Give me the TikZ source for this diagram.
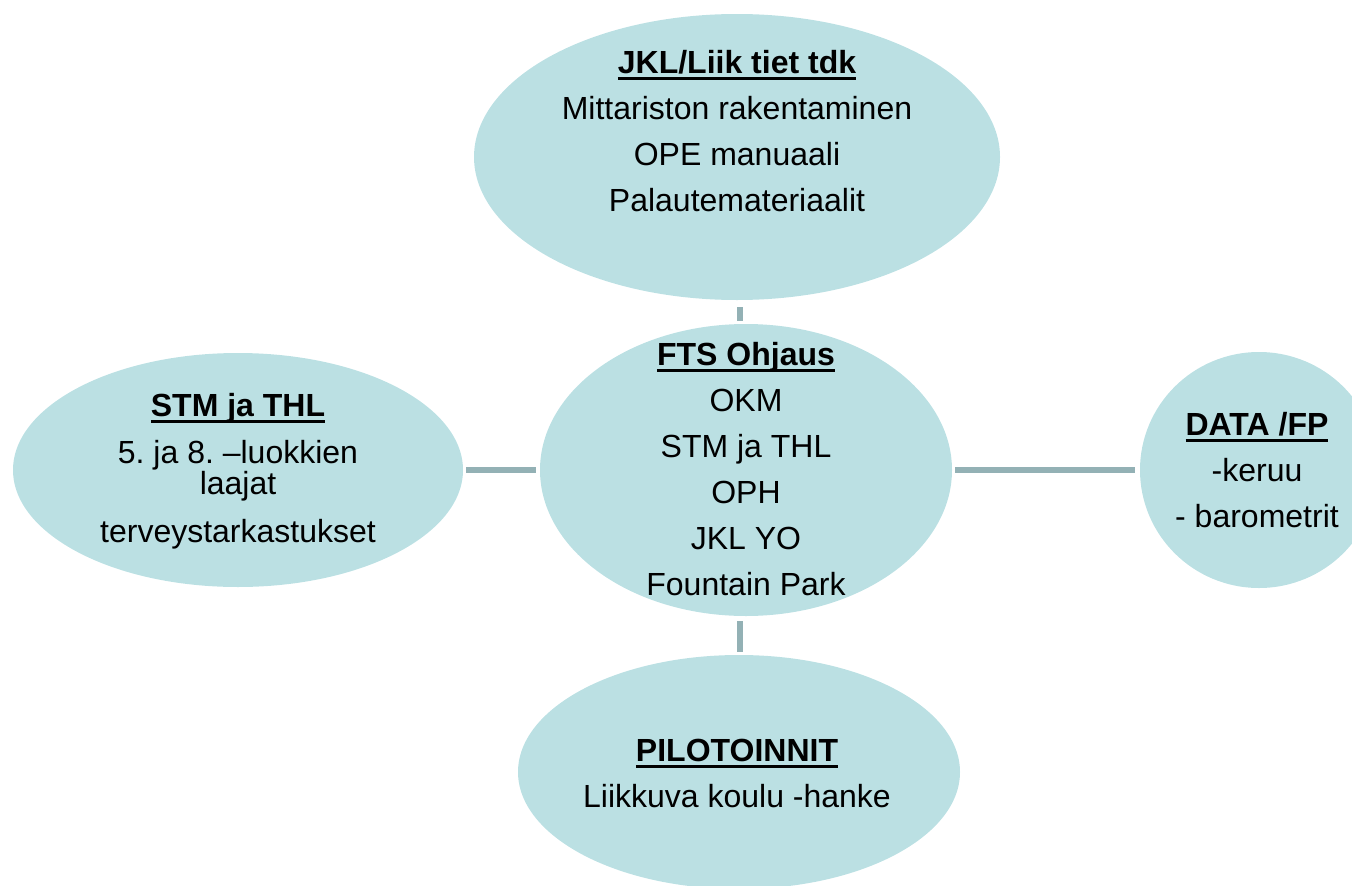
\documentclass[tikz,border=0pt]{standalone}
\usepackage{fontspec}
\setmainfont{Liberation Sans}
\usetikzlibrary{shapes.geometric}
\definecolor{bubble}{HTML}{BBE0E3}
\definecolor{linkc}{HTML}{93B1B5}
\newcommand{\hdul}[1]{\setbox0\hbox{\bfseries #1}\rlap{\rule[-7pt]{\wd0}{3pt}}\box0}
\frenchspacing
\tikzset{
  bub/.style={ellipse, fill=bubble, draw=none, inner sep=0pt},
  txt/.style={align=center, inner sep=0pt, font=\fontsize{32}{46}\selectfont\frenchspacing},
  conn/.style={draw=linkc, line width=6pt}
}
\begin{document}
\begin{tikzpicture}[x=1pt,y=-1pt]
\useasboundingbox (0,0) rectangle (1352,886);
\clip (0,0) rectangle (1352,886);
% bubbles
\node[bub, minimum width=526pt, minimum height=286pt] (top) at (737,157) {};
\node[bub, minimum width=412pt, minimum height=292pt] (ctr) at (746,470) {};
\node[bub, minimum width=450pt, minimum height=234pt] (lft) at (238,470) {};
\node[bub, minimum width=238pt, minimum height=236pt] (rgt) at (1259,470) {};
\node[bub, minimum width=442pt, minimum height=234pt] (bot) at (739,772) {};
% connectors
\draw[conn, shorten <=7pt, shorten >=3pt] ([xshift=3pt]top.south) -- ([xshift=3pt]top.south |- ctr.north);
\draw[conn, shorten <=4pt, shorten >=3pt] (ctr.west) -- (ctr.west -| lft.east);
\draw[conn, shorten <=3pt, shorten >=5pt] (ctr.east) -- (ctr.east -| rgt.west);
\draw[conn, shorten <=5pt, shorten >=3pt] ([xshift=1pt]bot.north |- ctr.south) -- ([xshift=1pt]bot.north);
% texts
\node[txt] (ttop) at (737,131) {\hdul{JKL/Liik tiet tdk}\\Mittariston rakentaminen\\OPE manuaali\\Palautemateriaalit};
\node[txt] (tctr) at (746,469) {\hdul{FTS Ohjaus}\\OKM\\STM ja THL\\OPH\\JKL YO\\Fountain Park};
\node[txt] (tlft) at (238,471) {\hdul{STM ja THL}\\[1pt]5. ja 8. –luokkien\\[-15pt]laajat\\[2pt]terveystarkastukset};
\node[txt] (trgt) at (1257,470) {\hdul{DATA /FP}\\-keruu\\- barometrit};
\node[txt] (tbot) at (737,773) {\hdul{PILOTOINNIT}\\Liikkuva koulu -hanke};
\end{tikzpicture}
\end{document}
